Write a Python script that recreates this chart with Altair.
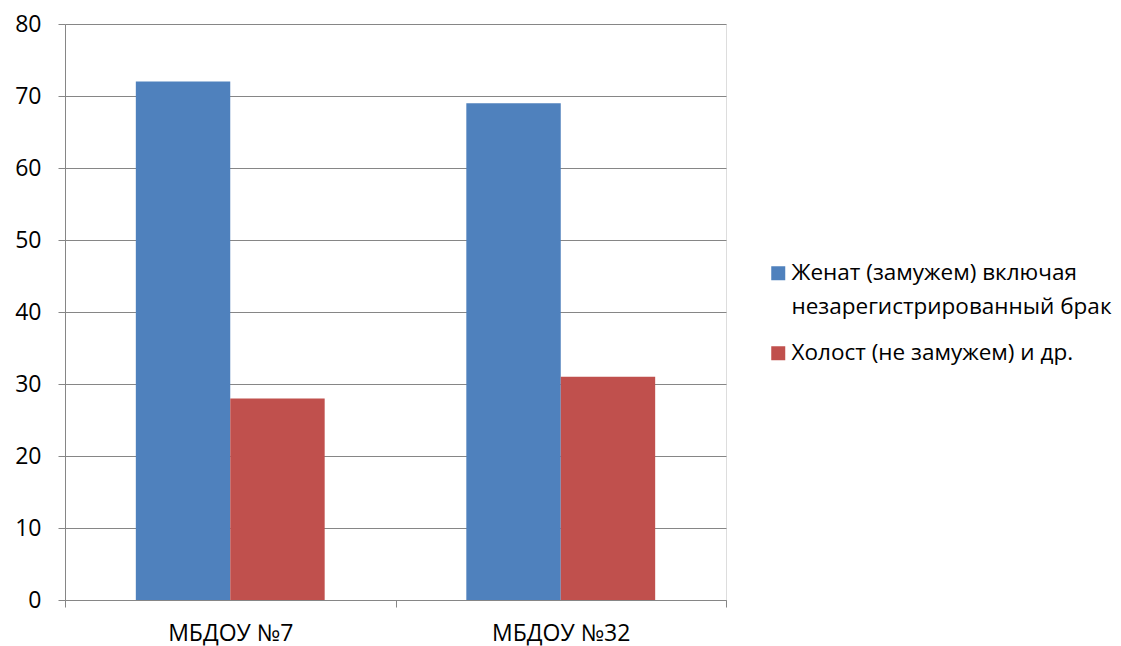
import altair as alt
import pandas as pd

categories = ["МБДОУ №7", "МБДОУ №32"]
series = ["Женат (замужем) включая\nнезарегистрированный брак", "Холост (не замужем) и др."]
married = [72, 69]
single = [28, 31]
colors = ["#4F81BD", "#C0504D"]

rows = []
for i, c in enumerate(categories):
    rows.append({"cat": c, "series": series[0], "value": married[i]})
    rows.append({"cat": c, "series": series[1], "value": single[i]})
df = pd.DataFrame(rows)

font = "Open Sans"
fs = 23

chart = alt.Chart(df).mark_bar().encode(
    x=alt.X("cat:N", sort=categories, title=None,
            scale=alt.Scale(paddingInner=0, paddingOuter=0),
            axis=alt.Axis(labelAngle=0, tickBand="extent", grid=False,
                          domainColor="#868686", tickColor="#868686", tickSize=7,
                          labelFontSize=fs, labelFont=font, labelColor="#000000",
                          labelPadding=15)),
    xOffset=alt.XOffset("series:N", sort=series,
                        scale=alt.Scale(paddingInner=0, paddingOuter=0.75)),
    y=alt.Y("value:Q", title=None,
            scale=alt.Scale(domain=[0, 80]),
            axis=alt.Axis(values=list(range(0, 81, 10)), grid=True,
                          gridColor="#868686", domainColor="#868686", tickColor="#868686",
                          tickSize=7, labelFontSize=fs, labelFont=font, labelColor="#000000",
                          labelPadding=17)),
    color=alt.Color("series:N", sort=series,
                    scale=alt.Scale(domain=series, range=colors),
                    legend=alt.Legend(title=None, orient="none", legendX=702, legendY=238,
                                      symbolType="square", symbolSize=196, symbolStrokeWidth=0,
                                      labelFontSize=22.5, labelFont=font, labelColor="#000000",
                                      labelLimit=400, rowPadding=23, labelOffset=2,
                                      labelExpr="split(datum.label, '\\n')")),
).properties(width=661, height=576)

chart = chart.configure_view(stroke=None).configure(
    padding={"left": 6, "top": 5, "right": 0, "bottom": 5},
    style={"guide-label": {"lineHeight": 34}},
)

chart.save("out.html", embed_options={"renderer": "svg", "actions": False})
